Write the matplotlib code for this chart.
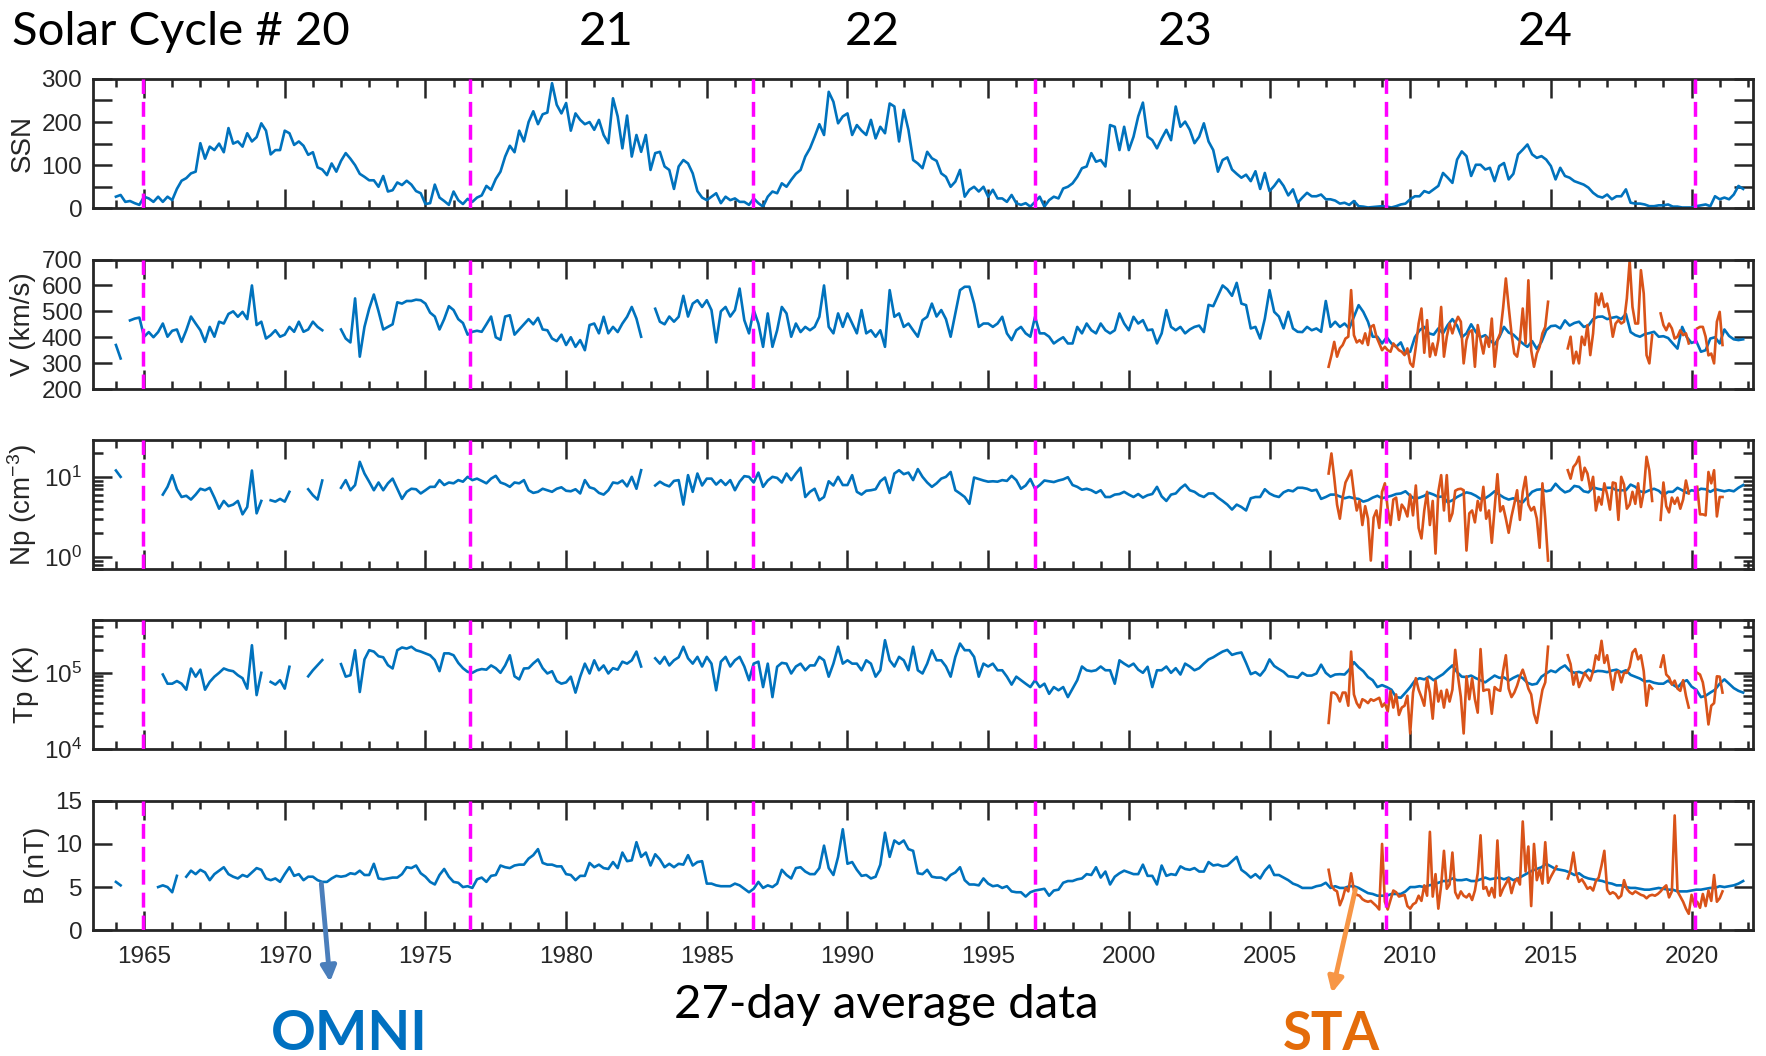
import numpy as np
import matplotlib.pyplot as plt
from matplotlib.ticker import MultipleLocator, LogLocator, NullFormatter

nan = np.nan

# 27-day averages resampled to 6 values per year, 1964.0 - 2021.83
ssn = [
    27, 31, 15, 17, 12, 8,          # 1964
    27, 23, 15, 27, 15, 27,
    19, 45, 64, 70, 81, 85,
    151, 115, 143, 135, 150, 130,
    186, 150, 155, 143, 174, 155,
    165, 197, 180, 125, 135, 135,
    180, 174, 147, 155, 145, 124,   # 1970
    130, 95, 90, 77, 104, 85,
    110, 128, 115, 100, 80, 73,
    65, 65, 50, 75, 39, 42,
    60, 54, 64, 55, 40, 35,
    10, 12, 55, 25, 17, 8,
    39, 19, 10, 22, 15, 25,
    30, 52, 43, 68, 85, 120,
    145, 130, 180, 155, 200, 225,
    195, 218, 222, 290, 240, 220,
    244, 180, 220, 205, 195, 200,   # 1980
    182, 205, 170, 151, 255, 213,
    139, 215, 120, 170, 131, 170,
    89, 128, 131, 97, 89, 45,
    97, 112, 104, 81, 40, 25,
    19, 27, 35, 12, 27, 19,
    23, 15, 15, 8, 23, 12,
    4, 27, 39, 35, 58, 50,
    66, 80, 89, 120, 139, 166,
    195, 170, 270, 247, 197, 213,
    220, 170, 193, 180, 170, 205,   # 1990
    162, 189, 174, 243, 236, 155,
    228, 182, 112, 104, 93, 131,
    116, 110, 81, 73, 50, 62,
    89, 27, 43, 50, 39, 50,
    27, 43, 23, 23, 15, 31,
    12, 8, 12, 4, 15, 27,
    4, 19, 27, 23, 46, 50,
    58, 73, 93, 97, 128, 108,
    112, 97, 193, 189, 135, 189,
    135, 166, 213, 245, 166, 158,   # 2000
    139, 162, 182, 158, 236, 189,
    201, 182, 151, 166, 197, 155,
    135, 85, 112, 118, 90, 80,
    71, 78, 63, 86, 45, 82,
    40, 52, 67, 52, 30, 44,
    13, 25, 36, 28, 28, 32,
    21, 21, 18, 11, 13, 8,
    17, 5, 4, 2, 3, 4,
    5, 4, 2, 5, 9, 11,
    21, 28, 28, 40, 36, 44,         # 2010
    52, 82, 71, 59, 113, 132,
    121, 75, 101, 101, 90, 94,
    63, 98, 105, 67, 80, 125,
    136, 148, 125, 117, 121, 113,
    98, 67, 94, 75, 71, 63,
    59, 55, 48, 36, 28, 25,
    32, 21, 28, 28, 44, 13,
    11, 11, 9, 5, 5, 7,
    7, 9, 4, 4, 2, 2,
    2, 5, 7, 9, 5, 28,              # 2020
    21, 25, 21, 32, 52, 45,
]

v_omni = [
    370, 318, nan, 465, 472, 476,   # 1964
    402, 420, 400, 420, 453, 402,
    425, 430, 382, 427, 480, 453,
    427, 382, 440, 402, 460, 453,
    490, 500, 479, 498, 470, 600,
    447, 460, 395, 408, 427, 402,
    410, 440, 421, 460, 421, 430,   # 1970
    460, 440, 427, nan, nan, nan,
    430, 395, 380, 550, 325, 440,
    510, 565, 500, 430, 440, 450,
    535, 530, 540, 540, 545, 543,
    530, 495, 480, 430, 470, 520,
    505, 470, 455, 410, 421, 425,
    421, 450, 480, 400, 390, 480,
    485, 410, 430, 450, 470, 450,
    475, 430, 427, 395, 385, 410,
    370, 400, 363, 389, 350, 447,   # 1980
    453, 415, 479, 415, 440, 420,
    453, 479, 517, 472, 402, nan,
    nan, 510, 460, 450, 480, 460,
    479, 560, 480, 530, 543, 517,
    543, 505, 380, 500, 517, 480,
    505, 588, 466, 415, 505, 453,
    363, 492, 363, 427, 517, 492,
    402, 453, 420, 440, 427, 440,
    479, 600, 440, 415, 492, 440,
    492, 453, 415, 505, 415, 427,   # 1990
    402, 427, 363, 582, 479, 492,
    440, 453, 427, 402, 466, 479,
    530, 480, 505, 470, 402, 492,
    582, 595, 595, 530, 440, 453,
    453, 440, 453, 479, 415, 389,
    427, 440, 415, 402, 479, 415,
    415, 402, 376, 389, 400, 376,
    376, 440, 415, 453, 427, 415,
    453, 427, 415, 427, 492, 453,
    427, 479, 453, 466, 427, 430,   # 2000
    376, 415, 505, 440, 427, 440,
    415, 430, 440, 445, 420, 525,
    520, 560, 600, 585, 560, 610,
    530, 524, 434, 440, 395, 472,
    582, 498, 480, 434, 498, 434,
    421, 420, 440, 427, 434, 421,
    540, 440, 460, 440, 453, 434,
    479, 524, 498, 460, 402, 402,
    376, 400, 376, 363, 380, 337,
    344, 400, 427, 440, 415, 410,   # 2010
    434, 415, 447, 470, 445, 400,
    415, 450, 420, 400, 408, 389,
    372, 400, 440, 418, 410, 392,
    376, 363, 385, 355, 382, 427,
    443, 445, 434, 465, 445, 455,
    460, 440, 445, 470, 479, 480,
    470, 475, 479, 470, 490, 420,
    408, 402, 412, 416, 421, 402,
    404, 397, 376, 356, 440, 400,
    378, 385, 344, 350, 395, 400,   # 2020
    376, 430, 405, 392, 389, 392,
]

np_omni = [
    12, 10, nan, nan, nan, nan,     # 1964
    nan, nan, nan, nan, 6.0, 7.5,
    10.5, 7.0, 5.6, 5.8, 5.2, 6.0,
    7.1, 6.8, 7.3, 5.5, 4.0, 5.0,
    4.3, 4.5, 5.0, 3.4, 4.2, 12.0,
    3.5, 5.0, nan, 5.1, 4.9, 5.3,
    4.9, 6.5, nan, nan, nan, 7.0,   # 1970
    5.9, 5.2, 9.0, nan, nan, nan,
    7.3, 9.1, 6.8, 7.9, 15.4, 11.0,
    8.7, 6.8, 8.5, 6.8, 8.3, 9.5,
    7.1, 5.3, 6.5, 7.1, 7.0, 6.2,
    6.8, 7.5, 7.5, 9.1, 7.9, 8.5,
    8.3, 9.1, 8.7, 10.0, 9.1, 9.5,
    8.9, 8.3, 9.5, 10.3, 8.5, 8.1,
    7.5, 8.5, 8.3, 9.1, 6.8, 6.3,
    6.5, 7.1, 6.8, 6.5, 7.1, 7.4,
    6.7, 6.6, 7.0, 6.2, 9.1, 7.4,   # 1980
    7.1, 6.3, 6.0, 6.8, 8.5, 8.3,
    9.0, 7.6, 10.0, 7.1, 12.1, nan,
    nan, 7.8, 8.7, 8.0, 7.6, 8.9,
    9.1, 4.5, 10.5, 6.5, 11.0, 7.8,
    9.5, 9.5, 8.0, 9.1, 7.9, 9.1,
    6.8, 8.7, 10.2, 10.0, 8.5, 11.3,
    7.5, 9.0, 10.0, 9.7, 8.5, 11.0,
    9.1, 11.0, 13.0, 5.6, 6.5, 7.1,
    5.1, 5.6, 8.8, 7.8, 10.0, 7.9,
    7.9, 10.5, 6.5, 6.0, 6.7, 6.8,  # 1990
    7.0, 8.8, 9.8, 6.3, 11.0, 12.1,
    10.8, 11.3, 9.1, 12.5, 10.0, 8.5,
    7.5, 8.3, 9.5, 10.0, 11.5, 6.8,
    6.2, 5.6, 4.6, 9.8, 9.4, 9.0,
    8.7, 8.8, 8.7, 9.1, 8.9, 10.3,
    9.1, 7.1, 7.8, 9.4, 7.1, 7.9,
    9.0, 8.8, 8.6, 9.0, 9.3, 9.9,
    7.9, 7.5, 6.9, 7.1, 6.8, 6.3,
    6.8, 5.6, 5.6, 6.0, 6.1, 6.5,
    6.0, 5.6, 6.1, 5.5, 5.9, 6.1,   # 2000
    7.5, 5.7, 5.0, 6.0, 6.2, 7.2,
    8.0, 6.8, 6.5, 5.9, 5.6, 6.2,
    6.2, 5.5, 5.0, 4.5, 3.9, 4.5,
    4.2, 3.8, 5.4, 5.6, 5.6, 7.0,
    6.2, 5.8, 5.6, 6.4, 6.8, 6.6,
    7.3, 7.3, 7.1, 6.7, 6.9, 5.3,
    5.6, 6.0, 6.0, 5.7, 5.4, 5.6,
    5.4, 5.3, 4.9, 5.1, 5.5, 5.8,
    5.4, 5.6, 5.8, 6.1, 6.2, 6.6,
    5.8, 5.3, 5.5, 5.8, 6.3, 6.0,   # 2010
    5.6, 5.7, 4.8, 5.1, 5.6, 6.0,
    6.4, 6.2, 5.8, 5.3, 5.4, 5.9,
    6.6, 6.0, 5.5, 5.2, 5.4, 5.0,
    4.8, 5.6, 6.5, 6.9, 7.0, 6.6,
    6.8, 8.2, 7.1, 6.4, 6.7, 7.7,
    7.5, 6.6, 6.4, 7.4, 7.1, 6.9,
    7.3, 7.3, 6.8, 6.8, 6.8, 8.0,
    7.5, 6.6, 6.4, 6.8, 7.1, 6.7,
    5.9, 6.5, 6.5, 7.3, 6.8, 6.3,
    6.8, 6.6, 7.1, 7.0, 6.5, 7.0,   # 2020
    6.8, 6.6, 6.8, 6.6, 7.3, 7.9,
]

# proton temperature in units of 1000 K
tp_omni = [
    nan, nan, nan, nan, nan, nan,   # 1964
    nan, nan, nan, nan, 95, 72,
    72, 78, 72, 60, 114, 89,
    110, 60, 76, 89, 100, 114,
    108, 105, 93, 85, 62, 230,
    51, 100, nan, 76, 70, 80,
    62, 120, nan, nan, nan, 90,     # 1970
    108, 126, 147, nan, nan, nan,
    130, 89, 93, 198, 56, 150,
    198, 190, 165, 160, 126, 114,
    198, 215, 208, 220, 198, 190,
    180, 170, 147, 105, 180, 180,
    170, 135, 115, 103, 100, 108,
    112, 110, 125, 115, 100, 125,
    170, 90, 82, 114, 115, 133,
    150, 115, 98, 105, 78, 72,
    75, 89, 55, 89, 132, 98,        # 1980
    146, 108, 125, 98, 115, 110,
    140, 132, 146, 190, 121, nan,
    nan, 155, 132, 162, 125, 146,
    160, 220, 155, 132, 162, 121,
    162, 132, 59, 140, 162, 121,
    146, 162, 121, 80, 132, 140,
    65, 132, 48, 120, 135, 132,
    98, 121, 132, 108, 125, 125,
    162, 146, 89, 132, 220, 132,
    146, 132, 132, 108, 146, 132,   # 1990
    89, 108, 268, 146, 121, 162,
    146, 108, 220, 108, 98, 132,
    198, 146, 146, 121, 89, 162,
    242, 198, 198, 162, 89, 132,
    121, 132, 108, 108, 89, 70,
    89, 80, 72, 65, 80, 65,
    72, 53, 65, 59, 65, 48,
    62, 80, 121, 108, 105, 108,
    121, 108, 108, 72, 146, 132,
    121, 132, 110, 100, 120, 65,    # 2000
    108, 108, 121, 100, 115, 95,
    132, 121, 108, 115, 132, 150,
    160, 175, 190, 200, 172, 180,
    185, 135, 96, 102, 92, 110,
    150, 123, 112, 103, 90, 89,
    86, 100, 92, 92, 98, 128,
    100, 89, 95, 96, 95, 110,
    138, 118, 105, 88, 80, 65,
    69, 65, 60, 48, 47, 55,
    65, 79, 85, 82, 89, 80,         # 2010
    88, 96, 110, 125, 102, 89,
    88, 92, 85, 80, 75, 83,
    92, 86, 87, 79, 86, 92,
    85, 74, 70, 72, 89, 98,
    107, 102, 115, 125, 107, 100,
    103, 98, 110, 102, 106, 105,
    102, 107, 110, 102, 108, 94,
    89, 84, 77, 78, 74, 72,
    72, 79, 70, 64, 75, 80,
    66, 60, 48, 50, 55, 60,         # 2020
    72, 82, 72, 63, 58, 55,
]

b_omni = [
    5.6, 5.2, nan, nan, nan, nan,   # 1964
    nan, nan, nan, 5.0, 5.2, 5.0,
    4.4, 6.3, nan, 6.2, 6.9, 6.5,
    7.0, 6.7, 5.8, 6.5, 6.9, 7.3,
    6.5, 6.2, 6.0, 6.4, 6.2, 6.7,
    7.2, 7.0, 6.0, 5.8, 6.0, 5.6,
    6.5, 7.3, 6.3, 6.5, 5.8, 6.2,   # 1970
    6.2, 5.8, 5.6, 5.6, 6.0, 6.3,
    6.2, 6.3, 6.6, 6.5, 6.9, 6.4,
    6.4, 7.7, 6.0, 5.9, 6.0, 6.1,
    6.1, 6.5, 7.3, 7.2, 7.5, 6.6,
    6.2, 5.6, 5.3, 6.4, 7.1, 6.2,
    5.6, 5.5, 5.0, 5.1, 4.9, 5.9,
    6.1, 5.6, 6.3, 6.4, 7.5, 7.3,
    7.2, 7.5, 7.6, 7.6, 8.3, 8.7,
    9.4, 7.8, 7.6, 7.6, 7.4, 7.4,
    6.5, 6.4, 5.8, 6.3, 6.3, 7.8,   # 1980
    7.3, 7.6, 7.2, 7.1, 7.9, 7.2,
    9.0, 8.0, 8.1, 10.2, 8.5, 9.0,
    7.5, 8.8, 8.2, 7.3, 7.7, 7.3,
    7.7, 7.6, 8.7, 7.5, 7.9, 8.0,
    5.4, 5.4, 5.2, 5.1, 5.1, 5.1,
    5.4, 5.2, 4.8, 4.4, 4.8, 5.6,
    4.9, 5.2, 5.0, 5.4, 7.0, 6.4,
    6.0, 7.2, 7.3, 6.8, 6.5, 6.5,
    7.2, 9.8, 7.2, 6.4, 8.5, 11.7,
    7.7, 7.9, 7.0, 6.3, 6.4, 6.0,   # 1990
    6.2, 7.6, 11.3, 8.5, 10.4, 10.0,
    10.4, 9.4, 9.2, 6.6, 6.5, 7.0,
    6.2, 6.1, 6.1, 5.8, 6.4, 6.7,
    7.3, 5.8, 5.3, 5.3, 5.2, 6.0,
    5.4, 5.1, 5.2, 4.9, 5.1, 4.5,
    4.4, 4.4, 3.9, 4.4, 4.6, 4.7,
    4.8, 4.0, 4.6, 4.7, 5.5, 5.7,
    5.7, 5.9, 6.0, 6.5, 6.4, 7.3,
    6.1, 6.8, 5.3, 6.2, 6.6, 6.9,
    6.7, 6.5, 6.5, 7.6, 6.3, 6.3,   # 2000
    5.3, 7.5, 6.3, 6.5, 6.4, 7.4,
    7.1, 7.0, 7.2, 6.8, 6.8, 7.9,
    7.5, 7.6, 7.4, 7.5, 8.0, 8.5,
    7.0, 6.6, 6.1, 6.5, 6.0, 6.9,
    7.5, 6.4, 6.4, 6.1, 5.8, 5.4,
    5.2, 4.9, 4.9, 4.9, 5.1, 5.2,
    5.5, 4.9, 5.1, 4.9, 4.9, 5.1,
    5.1, 4.9, 4.6, 4.3, 4.2, 4.0,
    4.0, 4.0, 4.2, 4.2, 4.2, 4.5,
    5.0, 5.0, 5.1, 5.0, 5.2, 5.3,   # 2010
    5.5, 5.7, 5.7, 6.0, 5.8, 5.8,
    5.9, 5.7, 5.7, 5.9, 6.1, 5.9,
    6.0, 6.1, 5.9, 6.1, 5.8, 6.0,
    6.3, 6.6, 6.9, 7.1, 7.3, 7.7,
    7.4, 7.1, 7.0, 6.9, 6.7, 6.4,
    6.6, 6.2, 6.0, 5.9, 5.8, 5.7,
    5.5, 5.4, 5.2, 5.2, 5.0, 4.9,
    4.9, 4.8, 4.7, 4.7, 4.8, 4.9,
    4.8, 4.7, 4.7, 4.5, 4.5, 4.5,
    4.6, 4.7, 4.7, 4.8, 4.9, 4.9,   # 2020
    5.1, 5.0, 5.1, 5.2, 5.4, 5.7,
]

# STEREO-A, 10 values per year from 2007.1 to 2021.1
sta_v = [
    286, 330, 382, 325, 357, 370, 395, 402, 582, 408,
    380, 389, 376, 415, 370, 440, 447, 402, 376, 350,
    363, 350, 344, 376, 363, 350, 344, 331, 357, 300,
    286, 363, 453, 511, 340, 466, 325, 376, 331, 389,
    517, 325, 402, 453, 415, 453, 479, 460, 299, 389,
    421, 427, 286, 447, 389, 337, 402, 363, 472, 286,
    389, 415, 511, 627, 517, 415, 337, 325, 389, 511,
    376, 620, 350, 286, 337, 363, 415, 440, 537, nan,
    nan, nan, nan, nan, nan, 357, 402, 299, 344, 299,
    402, 370, 447, 331, 415, 569, 524, 569, 517, 530,
    479, 402, 453, 466, 453, 460, 550, 695, 517, 453,
    453, 659, 569, 331, 299, 408, nan, nan, 492, 447,
    427, 453, 434, 395, 402, 427, 408, 415, 376, nan,
    nan, 434, 440, 440, 402, 330, 337, 299, 460, 498, 370,
]

sta_np = [
    11, 19.6, 9.8, 4.5, 3.0, 5.5, 8.5, 10, 12, 6.2,
    3.8, 5.0, 2.5, 4.3, 3.0, 0.9, 3.1, 3.8, 2.3, 6.5,
    8.3, 4.0, 2.5, 5.2, 5.5, 2.9, 4.5, 4.0, 3.2, 6.0,
    3.3, 7.8, 2.3, 1.7, 3.8, 6.5, 2.5, 5.0, 1.1, 6.5,
    10.5, 3.8, 10.5, 2.8, 3.5, 6.7, 7.0, 7.1, 6.8, 1.2,
    3.5, 3.8, 2.7, 5.0, 3.8, 7.5, 3.0, 3.8, 1.5, 4.0,
    10.8, 3.7, 4.3, 3.0, 2.0, 3.2, 4.6, 6.8, 2.9, 6.5,
    10, 4.5, 3.8, 4.2, 3.0, 1.3, 8.3, 3.0, 0.9, nan,
    nan, nan, nan, nan, nan, 12.1, 9.5, 13.3, 14.7, 17.8,
    9.1, 13, 11, 7, 10, 3.8, 5.6, 4.5, 8.3, 6.0,
    3.9, 8.5, 8.3, 2.9, 10, 8.0, 4.0, 4.5, 6.5, 4.6,
    8.3, 4.2, 6.5, 17.8, 12, 5.0, nan, nan, 2.9, 8.5,
    4.3, 3.6, 5.5, 4.6, 5.5, 4.0, 5.2, 9.0, 6.2, nan,
    nan, 7.5, 3.4, 3.4, 3.3, 11.5, 8.3, 12.1, 3.2, 5.6, 5.6,
]

# units of 1000 K
sta_tp = [
    22, 55, 55, 51, 42, 55, 55, 37, 190, 52,
    40, 35, 45, 43, 40, 45, 43, 45, 47, 36,
    40, 31, 58, 35, 52, 28, 35, 37, 50, 16,
    55, 85, 60, 48, 37, 85, 55, 25, 79, 42,
    58, 35, 60, 42, 60, 200, 89, 48, 16, 90,
    45, 85, 45, 30, 205, 58, 60, 60, 29, 65,
    60, 58, 105, 170, 62, 48, 55, 68, 90, 110,
    85, 62, 52, 29, 22, 37, 60, 75, 220, nan,
    nan, nan, nan, nan, nan, 170, 130, 70, 100, 65,
    80, 100, 89, 79, 105, 170, 148, 263, 135, 170,
    100, 60, 100, 105, 75, 100, 100, 120, 185, 205,
    150, 170, 105, 37, 69, 62, nan, nan, 120, 170,
    95, 87, 70, 79, 62, 58, 80, 50, 35, nan,
    nan, 100, 95, 75, 45, 21, 37, 40, 90, 89, 55,
]

sta_b = [
    7.0, 5.2, 4.7, 4.5, 2.9, 3.7, 4.9, 4.5, 6.6, 4.6,
    4.1, 4.0, 3.6, 3.4, 3.3, 3.4, 3.1, 2.8, 2.4, 10.0,
    3.3, 2.4, 3.5, 4.6, 4.4, 3.9, 4.0, 4.1, 2.8, 2.5,
    3.0, 3.2, 4.0, 3.4, 5.2, 4.0, 11.4, 3.9, 6.5, 2.5,
    5.2, 9.2, 4.8, 5.3, 9.0, 4.4, 3.7, 4.5, 4.0, 3.8,
    4.2, 3.5, 4.6, 6.6, 11.0, 4.8, 5.0, 4.0, 4.9, 3.8,
    10.4, 4.0, 4.8, 5.4, 6.0, 4.3, 5.5, 6.0, 5.3, 12.6,
    6.8, 9.7, 2.8, 10.0, 5.8, 7.0, 5.4, 10.2, 5.5, 6.2,
    6.8, 7.4, nan, nan, nan, 6.0, 7.0, 9.0, 6.6, 5.6,
    5.9, 5.4, 4.8, 5.0, 4.6, 5.7, 6.1, 7.5, 9.2, 4.7,
    4.2, 4.4, 4.2, 3.7, 4.0, 5.8, 4.8, 4.4, 4.2, 4.5,
    4.3, 4.1, 4.0, 3.7, 4.0, 4.1, 4.0, 4.2, 4.5, 4.9,
    5.2, 3.8, 4.5, 13.3, 4.5, 3.9, 3.3, 2.5, 1.9, 4.1,
    2.9, 3.3, 2.6, 4.2, 2.8, 4.6, 3.4, 6.4, 3.3, 3.7, 4.5,
]

# solar minima separating the cycles
cycle_minima = [1964.95, 1976.6, 1986.65, 1996.65, 2009.15, 2020.12]
cycle_labels = ["Solar Cycle # 20", "21", "22", "23", "24"]

omni_year = 1964 + np.arange(len(ssn)) / 6
sta_year = 2007.1 + 0.1 * np.arange(len(sta_v))

OMNI_C = "#0072BD"
STA_C = "#D95319"
AX_C = "#262626"

plt.rcParams["font.family"] = ["Liberation Sans", "DejaVu Sans"]
plt.rcParams["mathtext.fontset"] = "custom"
plt.rcParams["mathtext.rm"] = "Liberation Sans"
plt.rcParams["mathtext.it"] = "Liberation Sans:italic"

fig = plt.figure(figsize=(17.66, 10.56), dpi=100)

left, width, height = 0.0529, 0.9400, 0.1226
bottoms = [0.8027, 0.6316, 0.4609, 0.2907, 0.1191]
axes = [fig.add_axes([left, b, width, height]) for b in bottoms]
ax_ssn, ax_v, ax_np, ax_tp, ax_b = axes

lw = 1.9
ax_ssn.plot(omni_year, ssn, color=OMNI_C, lw=lw)
ax_v.plot(omni_year, v_omni, color=OMNI_C, lw=lw)
ax_v.plot(sta_year, sta_v, color=STA_C, lw=lw)
ax_np.plot(omni_year, np_omni, color=OMNI_C, lw=lw)
ax_np.plot(sta_year, sta_np, color=STA_C, lw=lw)
ax_tp.plot(omni_year, np.array(tp_omni) * 1e3, color=OMNI_C, lw=lw)
ax_tp.plot(sta_year, np.array(sta_tp) * 1e3, color=STA_C, lw=lw)
ax_b.plot(omni_year, b_omni, color=OMNI_C, lw=lw)
ax_b.plot(sta_year, sta_b, color=STA_C, lw=lw)

for ax in axes:
    for m in cycle_minima:
        ax.axvline(m, color="#FF00FF", lw=2.5, dashes=(4.3, 2.3), zorder=5)
    ax.set_xlim(1963.2, 2022.2)
    ax.xaxis.set_major_locator(MultipleLocator(5))
    ax.xaxis.set_minor_locator(MultipleLocator(1))
    ax.tick_params(which="both", direction="in", top=True, right=True,
                   colors=AX_C, width=1.8, labelsize=17.5, pad=8)
    ax.tick_params(which="major", length=14)
    ax.xaxis.set_tick_params(which="both", pad=11)
    ax.xaxis.set_tick_params(which="minor", length=6)
    ax.yaxis.set_tick_params(which="minor", length=7)
    for s in ax.spines.values():
        s.set_linewidth(2.0)
        s.set_color(AX_C)
    if ax is not ax_b:
        ax.tick_params(labelbottom=False)

ax_ssn.set_ylim(0, 300)
ax_ssn.set_yticks(np.arange(0, 301, 50), ["0", "", "100", "", "200", "", "300"])
ax_v.set_ylim(200, 700)
ax_v.set_yticks(np.arange(200, 701, 100))
ax_np.set_yscale("log")
ax_np.set_ylim(0.7, 29)
ax_tp.set_yscale("log")
ax_tp.set_ylim(1e4, 5e5)
for ax in (ax_np, ax_tp):
    ax.yaxis.set_major_locator(LogLocator(base=10))
    ax.yaxis.set_minor_locator(LogLocator(base=10, subs=np.arange(2, 10)))
    ax.yaxis.set_minor_formatter(NullFormatter())
ax_b.set_ylim(0, 15)
ax_b.set_yticks([0, 5, 10, 15])

ylabels = ["SSN", "V (km/s)", "Np (cm$^{-3}$)", "Tp (K)", "B (nT)"]
for ax, lab in zip(axes, ylabels):
    ax.set_ylabel(lab, fontsize=20, color=AX_C, labelpad=4)

# cycle numbers along the top
title_kw = dict(family=["Lato", "DejaVu Sans"], fontsize=34, va="baseline")
fig.text(0.0068, 0.9574, cycle_labels[0], ha="left", **title_kw)
for x, lab in zip([0.343, 0.494, 0.671, 0.875], cycle_labels[1:]):
    fig.text(x, 0.9574, lab, ha="center", **title_kw)

fig.text(0.502, 0.036, "27-day average data", ha="center", **title_kw)
fig.text(0.198, 0.006, "OMNI", ha="center", va="baseline", fontsize=40,
         fontweight="bold", family=["Lato", "DejaVu Sans"], color="#0070C0")
fig.text(0.754, 0.006, "STA", ha="center", va="baseline", fontsize=38,
         fontweight="bold", family=["Lato", "DejaVu Sans"], color="#E46C0A")

ax_b.annotate("", xy=(0.1869, 0.0701), xycoords="figure fraction",
              xytext=(1971.3, 5.4), textcoords="data", annotation_clip=False,
              arrowprops=dict(arrowstyle="-|>,head_length=0.9,head_width=0.45",
                              color="#4A7EBB", lw=3.5, shrinkA=0, shrinkB=0))
ax_b.annotate("", xy=(0.7542, 0.0597), xycoords="figure fraction",
              xytext=(2008.05, 4.7), textcoords="data", annotation_clip=False,
              arrowprops=dict(arrowstyle="-|>,head_length=0.9,head_width=0.45",
                              color="#F79646", lw=3.5, shrinkA=0, shrinkB=0))

fig.savefig("out.png", dpi=100)
